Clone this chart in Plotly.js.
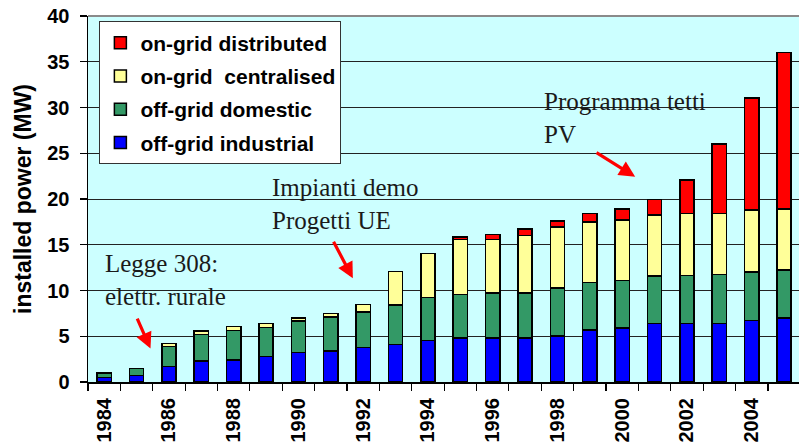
<!DOCTYPE html>
<html>
<head>
<meta charset="utf-8">
<script src="https://cdn.plot.ly/plotly-3.0.1.min.js"></script>
<style>
  html, body { margin: 0; padding: 0; background: #ffffff; }
  #chart { width: 799px; height: 447px; }
</style>
</head>
<body>
<div id="chart"></div>
<script>
// Installed PV power in Italy by market segment (MW)
const years = [1984, 1985, 1986, 1987, 1988, 1989, 1990, 1991, 1992, 1993, 1994,
               1995, 1996, 1997, 1998, 1999, 2000, 2001, 2002, 2003, 2004, 2005];

const offGridIndustrial = [0.5, 0.7, 1.7, 2.3, 2.4, 2.8, 3.2, 3.4, 3.75, 4.1, 4.55,
                           4.8, 4.8, 4.8, 5.05, 5.7, 5.9, 6.4, 6.4, 6.4, 6.7, 7.0];
const offGridDomestic   = [0.5, 0.8, 2.2, 2.9, 3.25, 3.15, 3.45, 3.7, 3.9, 4.3, 4.7,
                           4.75, 4.95, 4.95, 5.25, 5.2, 5.2, 5.2, 5.25, 5.35, 5.3, 5.25];
const onGridCentralised = [0, 0, 0.3, 0.4, 0.4, 0.45, 0.35, 0.4, 0.8, 3.65, 4.8,
                           6.0, 5.85, 6.25, 6.65, 6.6, 6.6, 6.65, 6.75, 6.65, 6.8, 6.65];
const onGridDistributed = [0, 0, 0, 0, 0, 0, 0, 0, 0, 0, 0,
                           0.3, 0.5, 0.7, 0.65, 0.9, 1.2, 1.7, 3.65, 7.6, 12.25, 17.1];

const seriesNames = ['off-grid industrial', 'off-grid domestic',
                     'on-grid\u00a0 centralised', 'on-grid distributed'];
const seriesValues = [offGridIndustrial, offGridDomestic, onGridCentralised, onGridDistributed];
const seriesColors = ['#0000ff', '#339966', '#ffff99', '#ff0000'];

const labelYears = [1984, 1986, 1988, 1990, 1992, 1994, 1996, 1998, 2000, 2002, 2004];
const boundaries = years.map(y => y - 0.5).concat([years[years.length - 1] + 0.5]);

// Notes with their pointer arrows (x in years, y in MW)
const notes = [
  { text: 'Legge 308:<br>elettr. rurale', x: 1983.96, y: 11.2 },
  { text: 'Impianti demo<br>Progetti UE', x: 1989.11, y: 19.4 },
  { text: 'Programma tetti<br>PV', x: 1997.51, y: 28.8 }
];
const pointers = [
  { fromX: 1985.0, fromY: 7.1, toX: 1985.43, toY: 3.65 },
  { fromX: 1991.06, fromY: 15.5, toX: 1991.68, toY: 11.33 },
  { fromX: 1999.16, fromY: 25.16, toX: 2000.4, toY: 22.43 }
];

const sansBold = 'Arial, "Liberation Sans", sans-serif';
const serif = '"Times New Roman", "Liberation Serif", serif';

const traces = seriesValues.map((vals, i) => ({
  type: 'bar',
  x: years,
  y: vals,
  name: seriesNames[i],
  legendgroup: 'g' + i,
  legendrank: 10 - i,
  marker: { color: seriesColors[i], line: { color: '#000000', width: 1.5 } },
  hoverinfo: 'skip'
}));

// empty trace that carries the boundary tick axis
traces.push({
  type: 'scatter', x: [], y: [], xaxis: 'x2', yaxis: 'y',
  showlegend: false, hoverinfo: 'skip'
});

const annotations = notes.map(n => ({
  text: n.text, x: n.x, y: n.y, xref: 'x', yref: 'y',
  xanchor: 'left', yanchor: 'middle', align: 'left', showarrow: false,
  font: { family: serif, size: 25, color: '#1a1a1a' }
})).concat(pointers.map(p => ({
  text: '', x: p.toX, y: p.toY, ax: p.fromX, ay: p.fromY,
  xref: 'x', yref: 'y', axref: 'x', ayref: 'y',
  showarrow: true, arrowhead: 2, arrowsize: 1, arrowwidth: 3.2,
  arrowcolor: '#ff0000', standoff: 0, startstandoff: 0
})));

const layout = {
  width: 799,
  height: 447,
  margin: { l: 88, r: 0, t: 16, b: 65 },
  paper_bgcolor: '#ffffff',
  plot_bgcolor: '#ccffff',
  barmode: 'stack',
  bargap: 0.56,
  showlegend: true,
  legend: {
    x: 0.016, y: 0.985, xanchor: 'left', yanchor: 'top',
    traceorder: 'grouped',
    tracegroupgap: 3,
    bgcolor: '#ffffff', bordercolor: '#333333', borderwidth: 1,
    font: { family: sansBold, size: 21, color: '#000000', weight: 'bold' }
  },
  xaxis: {
    range: [1983.5, 2005.46],
    tickvals: labelYears,
    ticktext: labelYears.map(String),
    tickangle: -90,
    ticks: '',
    ticklabelstandoff: 11,
    showgrid: false, zeroline: false, showline: false,
    tickfont: { family: sansBold, size: 20, color: '#000000', weight: 'bold' },
    fixedrange: true
  },
  xaxis2: {
    overlaying: 'x', matches: 'x', anchor: 'y', side: 'bottom',
    tickvals: boundaries,
    ticks: 'outside', ticklen: 7, tickwidth: 1.2, tickcolor: '#000000',
    showticklabels: false, showgrid: false, zeroline: false,
    showline: true, linecolor: '#000000', linewidth: 1.5
  },
  yaxis: {
    range: [0, 40],
    dtick: 5,
    ticks: 'outside', ticklen: 7, tickwidth: 1.2, tickcolor: '#000000',
    showline: true, linecolor: '#000000', linewidth: 1.5,
    showgrid: true, gridcolor: '#222222', gridwidth: 1,
    zeroline: false,
    ticklabelstandoff: 6,
    tickfont: { family: sansBold, size: 20, color: '#000000', weight: 'bold' },
    title: {
      text: 'installed power (MW)',
      font: { family: sansBold, size: 23, color: '#000000', weight: 'bold' },
      standoff: 9
    },
    fixedrange: true
  },
  shapes: [{
    type: 'line', xref: 'paper', yref: 'paper', x0: 0, x1: 1, y0: 1, y1: 1,
    line: { color: '#8a8a8a', width: 2 }, layer: 'above'
  }],
  annotations: annotations
};

Plotly.newPlot('chart', traces, layout, { displayModeBar: false, staticPlot: true });
</script>
</body>
</html>
